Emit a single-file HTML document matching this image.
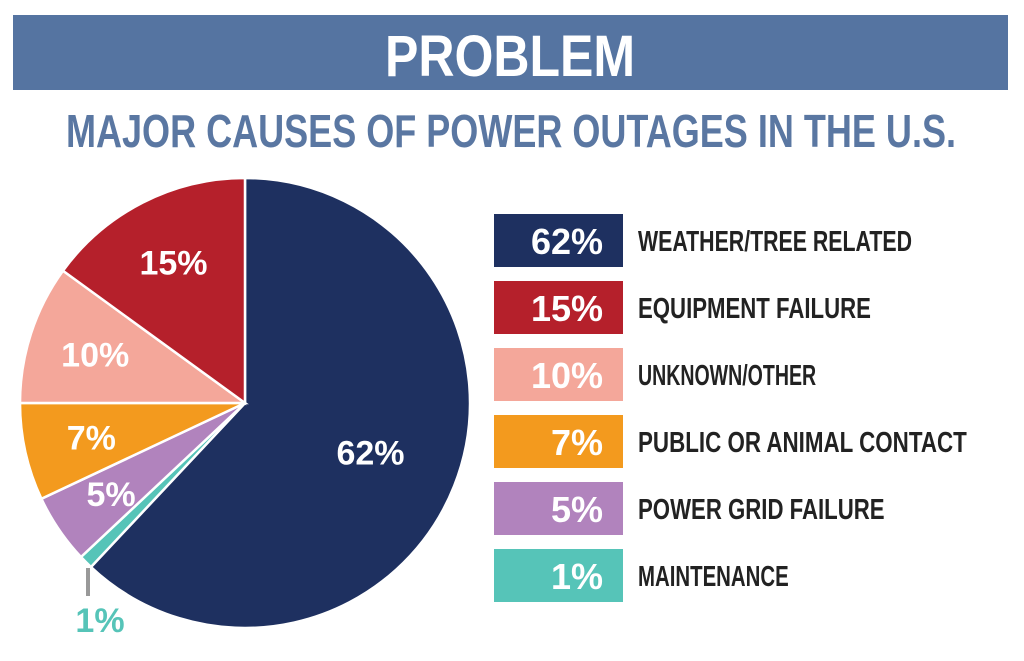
<!DOCTYPE html>
<html><head><meta charset="utf-8"><style>
html,body{margin:0;padding:0;background:#fff;}
svg{display:block;font-family:"Liberation Sans",sans-serif;font-weight:bold;}
</style></head><body>
<svg width="1024" height="661" viewBox="0 0 1024 661">
<rect x="13" y="15" width="995" height="75" fill="#5574a1"/>
<text x="510" y="76" text-anchor="middle" font-size="58" fill="#fff" textLength="250" lengthAdjust="spacingAndGlyphs">PROBLEM</text>
<text x="511" y="147" text-anchor="middle" font-size="46" fill="#5a77a2" textLength="890" lengthAdjust="spacingAndGlyphs">MAJOR CAUSES OF POWER OUTAGES IN THE U.S.</text>
<g id="pie"></g>
<g id="legend"></g>
<line x1="88" y1="568" x2="88" y2="596" stroke="#999" stroke-width="4"/>
</svg>
<script>
const categories=["WEATHER/TREE RELATED","EQUIPMENT FAILURE","UNKNOWN/OTHER","PUBLIC OR ANIMAL CONTACT","POWER GRID FAILURE","MAINTENANCE"];
const values=[62,15,10,7,5,1];
const colors=["#1e3060","#b5202b","#f4a79a","#f39a1e","#b183bd","#56c4b8"];
const NS="http://www.w3.org/2000/svg";
const cx=245,cy=403,r=225;
const pie=document.getElementById('pie'),leg=document.getElementById('legend');
const total=values.reduce((a,b)=>a+b,0);
function pt(a,rr){return [cx+rr*Math.sin(a),cy-rr*Math.cos(a)];}
// order clockwise: first slice, then the rest reversed
const order=[0,5,4,3,2,1];
let ang=0;
order.forEach(i=>{
  const sw=values[i]/total*2*Math.PI;
  const a0=ang,a1=ang+sw;ang=a1;
  const p0=pt(a0,r),p1=pt(a1,r);
  const path=document.createElementNS(NS,'path');
  path.setAttribute('d',`M${cx},${cy}L${p0[0]},${p0[1]}A${r},${r} 0 ${sw>Math.PI?1:0} 1 ${p1[0]},${p1[1]}Z`);
  path.setAttribute('fill',colors[i]);path.setAttribute('stroke','#fff');path.setAttribute('stroke-width','2.5');
  
  
  pie.appendChild(path);
  const mid=(a0+a1)/2;
  let lr=i===0?0.6*r:(i===4?0.72*r:0.7*r);
  let lp=pt(mid,lr);
  let fill='#fff';
  if(i===5){lp=[100,632];fill=colors[5];} else lp[1]+=12;
  const t=document.createElementNS(NS,'text');
  t.setAttribute('x',lp[0]);t.setAttribute('y',lp[1]);t.setAttribute('text-anchor','middle');
  t.setAttribute('font-size','34');t.setAttribute('fill',fill);
  t.textContent=values[i]+'%';
  
  
  pie.appendChild(t);
});
categories.forEach((c,i)=>{
  const y=214+i*67;
  const rc=document.createElementNS(NS,'rect');
  rc.setAttribute('x',494);rc.setAttribute('y',y);rc.setAttribute('width',129);rc.setAttribute('height',53);rc.setAttribute('fill',colors[i]);
  
  
  leg.appendChild(rc);
  const v=document.createElementNS(NS,'text');
  v.setAttribute('x',603);v.setAttribute('y',y+40);v.setAttribute('text-anchor','end');v.setAttribute('font-size','36');v.setAttribute('fill','#fff');
  v.textContent=values[i]+'%';
  
  
  leg.appendChild(v);
  const t=document.createElementNS(NS,'text');
  t.setAttribute('x',638);t.setAttribute('y',y+37);t.setAttribute('font-size','29');t.setAttribute('fill','#222');
  t.setAttribute('textLength',c.length*13.7);t.setAttribute('lengthAdjust','spacingAndGlyphs');
  t.textContent=c;
  
  
  leg.appendChild(t);
});
</script>
</body></html>
